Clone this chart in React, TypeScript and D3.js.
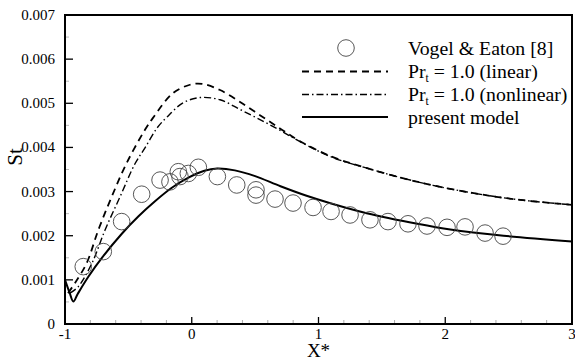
import React from "react";
import * as d3 from "d3";

// Vogel & Eaton [8] measurements (X*, St x 1e-3)
const obsX = [-0.856, -0.698, -0.553, -0.395, -0.25, -0.172, -0.106, -0.093, -0.027, 0.052, 0.202, 0.355, 0.507, 0.507, 0.657, 0.799, 0.957, 1.099, 1.249, 1.406, 1.548, 1.706, 1.856, 2.014, 2.156, 2.314, 2.456];
const obsY = [1.30, 1.64, 2.32, 2.94, 3.26, 3.22, 3.45, 3.34, 3.41, 3.55, 3.34, 3.15, 3.04, 2.92, 2.83, 2.74, 2.64, 2.55, 2.47, 2.36, 2.32, 2.27, 2.22, 2.19, 2.20, 2.06, 1.99];

// Pr_t = 1.0 (linear)
const linX = [-0.976, -0.921, -0.829, -0.737, -0.632, -0.513, -0.369, -0.306, -0.148, -0.014, 0.081, 0.223, 0.381, 0.538, 0.696, 0.854, 1.114, 1.383, 1.643, 1.903, 2.172, 2.432, 2.692, 3.0];
const linY = [0.70, 0.93, 1.38, 2.13, 2.88, 3.65, 4.40, 4.67, 5.23, 5.42, 5.44, 5.30, 5.03, 4.73, 4.43, 4.14, 3.78, 3.53, 3.32, 3.14, 2.99, 2.87, 2.78, 2.70];

// Pr_t = 1.0 (nonlinear)
const nlX = [-0.961, -0.897, -0.787, -0.684, -0.566, -0.448, -0.369, -0.274, -0.195, -0.069, 0.065, 0.223, 0.381, 0.538, 0.696, 0.854, 1.114, 1.383, 1.643, 1.903, 2.172, 2.432, 2.692, 3.0];
const nlY = [0.70, 0.84, 1.38, 2.13, 2.88, 3.63, 3.99, 4.44, 4.69, 5.01, 5.13, 5.08, 4.86, 4.63, 4.39, 4.13, 3.77, 3.53, 3.32, 3.14, 2.99, 2.87, 2.78, 2.70];

// present model
const pmX = [-1, -0.965, -0.934, -0.9, -0.816, -0.7, -0.55, -0.42, -0.29, -0.16, -0.03, 0.1, 0.2, 0.34, 0.5, 0.7, 0.9, 1.1, 1.38, 1.78, 2.04, 2.46, 3.0];
const pmY = [1.0, 0.72, 0.51, 0.68, 1.07, 1.53, 2.05, 2.44, 2.78, 3.08, 3.31, 3.47, 3.52, 3.48, 3.35, 3.12, 2.91, 2.73, 2.51, 2.27, 2.14, 2.0, 1.87];

const xTicks = [-1, 0, 1, 2, 3];
const xTickLabels = ["-1", "0", "1", "2", "3"];
const yTicks = [0, 0.001, 0.002, 0.003, 0.004, 0.005, 0.006, 0.007];
const yTickLabels = ["0", "0.001", "0.002", "0.003", "0.004", "0.005", "0.006", "0.007"];

const legendLabels = ["Vogel & Eaton [8]", "Pr_t = 1.0 (linear)", "Pr_t = 1.0 (nonlinear)", "present model"];

const W = 575, H = 358;
const L = 65, R = 572, T = 15, B = 324;
const FONT = "Liberation Serif, DejaVu Serif, serif";

export default function App() {
  const x = d3.scaleLinear().domain([-1, 3]).range([L, R]);
  const y = d3.scaleLinear().domain([0, 0.007]).range([B, T]);
  const line = d3
    .line<[number, number]>()
    .x((d) => x(d[0]))
    .y((d) => y(d[1] * 1e-3))
    .curve(d3.curveCatmullRom.alpha(0.5));
  const zip = (a: number[], b: number[]) => a.map((v, i) => [v, b[i]] as [number, number]);

  const xMinor = d3.range(-1, 3.0001, 0.2).filter((v) => Math.abs(v - Math.round(v)) > 1e-6);
  const yMinor = d3.range(0.0005, 0.007, 0.001);

  const legY = [48, 71.5, 94.5, 117];
  const tStyle = { fontFamily: FONT };
  const renderLabel = (s: string, yy: number, key: number) => {
    if (s.startsWith("Pr_t")) {
      const rest = s.slice(4);
      return (
        <text key={key} x={408} y={yy + 6.5} fontSize={19.8} style={tStyle}>
          Pr
          <tspan fontSize={11.5} dy={4}>t</tspan>
          <tspan dy={-4}>{rest}</tspan>
        </text>
      );
    }
    return (
      <text key={key} x={408} y={yy + 6.5} fontSize={19.8} style={tStyle}>
        {s}
      </text>
    );
  };

  return (
    <svg width={W} height={H} style={{ position: "absolute", left: 0, top: 0, background: "#fff", fontFamily: FONT }}>
      <rect x={0} y={0} width={W} height={H} fill="#fff" />
      {/* minor ticks */}
      {xMinor.map((v, i) => (
        <line key={"xm" + i} x1={x(v)} x2={x(v)} y1={B} y2={B - 4} stroke="#aaa" strokeWidth={1} />
      ))}
      {yMinor.map((v, i) => (
        <line key={"ym" + i} x1={L} x2={L + 4} y1={y(v)} y2={y(v)} stroke="#bbb" strokeWidth={1} />
      ))}
      {/* major ticks */}
      {xTicks.slice(1, -1).map((v, i) => (
        <line key={"xt" + i} x1={x(v)} x2={x(v)} y1={B} y2={B - 7} stroke="#000" strokeWidth={1.3} />
      ))}
      {yTicks.slice(1, -1).map((v, i) => (
        <line key={"yt" + i} x1={L} x2={L + 8} y1={y(v)} y2={y(v)} stroke="#000" strokeWidth={1.3} />
      ))}
      {/* curves */}
      <path d={line(zip(linX, linY)) || ""} fill="none" stroke="#000" strokeWidth={1.8} strokeDasharray="7,5" />
      <path d={line(zip(nlX, nlY)) || ""} fill="none" stroke="#000" strokeWidth={1.4} strokeDasharray="7,3,1.5,3" />
      <path d={line(zip(pmX, pmY)) || ""} fill="none" stroke="#000" strokeWidth={2} />
      {/* observations */}
      {obsX.map((v, i) => (
        <circle key={"o" + i} cx={x(v)} cy={y(obsY[i] * 1e-3)} r={8.3} fill="none" stroke="#444" strokeWidth={0.9} />
      ))}
      {/* frame */}
      <rect x={L} y={T} width={R - L} height={B - T} fill="none" stroke="#000" strokeWidth={2} />
      {/* tick labels */}
      {xTicks.map((v, i) => (
        <text key={"xl" + i} x={x(v)} y={339} textAnchor="middle" fontSize={15} style={tStyle}>
          {xTickLabels[i]}
        </text>
      ))}
      {yTicks.map((v, i) => (
        <text key={"yl" + i} x={55} y={y(v) + 5} textAnchor="end" fontSize={15} style={tStyle}>
          {yTickLabels[i]}
        </text>
      ))}
      {/* axis titles */}
      <text x={x(1)} y={357} textAnchor="middle" fontSize={19} style={tStyle}>
        X*
      </text>
      <text transform={`translate(22,${157}) rotate(-90)`} textAnchor="middle" fontSize={21} style={tStyle}>
        St
      </text>
      {/* legend */}
      <circle cx={346} cy={legY[0]} r={8.3} fill="none" stroke="#444" strokeWidth={0.9} />
      <line x1={302} x2={388} y1={legY[1]} y2={legY[1]} stroke="#000" strokeWidth={1.8} strokeDasharray="7,5" />
      <line x1={302} x2={388} y1={legY[2]} y2={legY[2]} stroke="#000" strokeWidth={1.4} strokeDasharray="7,3,1.5,3" />
      <line x1={302} x2={388} y1={legY[3]} y2={legY[3]} stroke="#000" strokeWidth={2} />
      {legendLabels.map((s, i) => renderLabel(s, legY[i], i))}
    </svg>
  );
}
